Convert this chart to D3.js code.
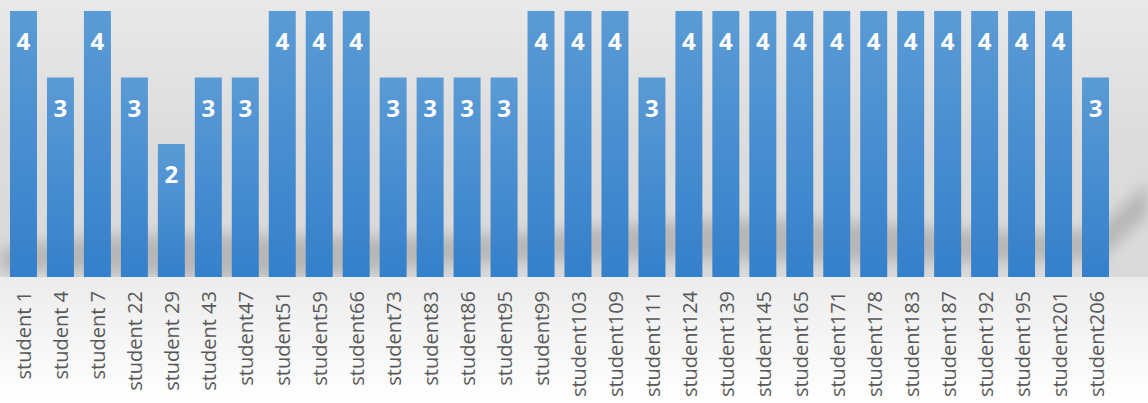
<!DOCTYPE html>
<html>
<head>
<meta charset="utf-8">
<script src="https://cdn.jsdelivr.net/npm/d3@7/dist/d3.min.js"></script>
<style>
  html, body { margin: 0; padding: 0; background: #fff; }
  svg { display: block; }
</style>
</head>
<body>
<div id="chart"></div>
<script>
// chart data
const students = ["student 1", "student 4", "student 7", "student 22", "student 29", "student 43",
    "student47", "student51", "student59", "student66", "student73", "student83", "student86",
    "student95", "student99", "student103", "student109", "student111", "student124", "student139",
    "student145", "student165", "student171", "student178", "student183", "student187",
    "student192", "student195", "student201", "student206"];
const scores = [4, 3, 4, 3, 2, 3, 3, 4, 4, 4, 3, 3, 3, 3, 4, 4, 4, 3, 4, 4, 4, 4, 4, 4, 4, 4, 4, 4, 4, 3];
const yMax = 4;

const W = 1148, H = 403;
const margin = { top: 11, right: 34, bottom: 126, left: 5 };
const width = W - margin.left - margin.right;
const height = H - margin.top - margin.bottom;

const svg = d3.select("#chart").append("svg")
    .attr("width", W)
    .attr("height", H);

const defs = svg.append("defs");

// backgrounds
const bgTop = defs.append("linearGradient").attr("id", "bgTop")
    .attr("x1", 0).attr("y1", 0).attr("x2", 0).attr("y2", 1);
bgTop.append("stop").attr("offset", "0%").attr("stop-color", "#e9e9e9");
bgTop.append("stop").attr("offset", "50%").attr("stop-color", "#dcdcdc");
bgTop.append("stop").attr("offset", "100%").attr("stop-color", "#d9d9d9");

const bgBot = defs.append("linearGradient").attr("id", "bgBot")
    .attr("x1", 0).attr("y1", 0).attr("x2", 0).attr("y2", 1);
bgBot.append("stop").attr("offset", "0%").attr("stop-color", "#ececec");
bgBot.append("stop").attr("offset", "100%").attr("stop-color", "#ffffff");

const barGrad = defs.append("linearGradient").attr("id", "barGrad")
    .attr("x1", 0).attr("y1", 0).attr("x2", 0).attr("y2", 1);
barGrad.append("stop").attr("offset", "0%").attr("stop-color", "#5b9bd5");
barGrad.append("stop").attr("offset", "100%").attr("stop-color", "#3580cb");

defs.append("filter").attr("id", "blur")
    .attr("x", "-20%").attr("y", "-50%").attr("width", "140%").attr("height", "200%")
    .append("feGaussianBlur").attr("stdDeviation", 7);

const baseY = margin.top + height;

svg.append("rect")
    .attr("width", W).attr("height", baseY)
    .attr("fill", "url(#bgTop)");

// soft reflection shadow behind the bars
const shadow = svg.append("g").attr("filter", "url(#blur)").attr("opacity", 0.6);
shadow.append("path")
    .attr("d", `M0,${baseY - 28} C150,${baseY - 60} 350,${baseY - 25} 600,${baseY - 50}
        S1000,${baseY - 30} 1100,${baseY - 50} L${W},${baseY - 95} L${W},${baseY - 62}
        L1100,${baseY - 18} C900,${baseY - 8} 600,${baseY - 28} 400,${baseY - 8}
        S100,${baseY - 12} 0,${baseY - 5} Z`)
    .attr("fill", "#a0a0a0");
svg.append("rect")
    .attr("y", baseY).attr("width", W).attr("height", H - baseY)
    .attr("fill", "url(#bgBot)");

const g = svg.append("g")
    .attr("transform", `translate(${margin.left}, ${margin.top})`);

const x = d3.scaleBand()
    .domain(students)
    .range([0, width])
    .paddingInner(0.27)
    .paddingOuter(0.135);

const y = d3.scaleLinear()
    .domain([0, yMax])
    .range([height, 0]);

g.selectAll(".bar")
    .data(scores)
    .join("rect")
    .attr("class", "bar")
    .attr("x", (d, i) => x(students[i]))
    .attr("y", d => y(d))
    .attr("width", x.bandwidth())
    .attr("height", d => height - y(d))
    .attr("fill", "url(#barGrad)");

g.selectAll(".val")
    .data(scores)
    .join("text")
    .attr("class", "val")
    .attr("x", (d, i) => x(students[i]) + x.bandwidth() / 2)
    .attr("y", d => y(d) + 39)
    .attr("text-anchor", "middle")
    .style("font-family", "'Open Sans', sans-serif")
    .style("font-weight", "bold")
    .style("font-size", "24px")
    .style("fill", "#fff")
    .text(d => d);

// x axis labels
const xAxis = g.append("g")
    .attr("transform", `translate(0, ${height})`)
    .call(d3.axisBottom(x).tickSize(0).tickPadding(0));
xAxis.select(".domain").remove();
xAxis.selectAll("text")
    .attr("transform", "rotate(-90)")
    .attr("x", -14)
    .attr("y", 1)
    .attr("dy", "0.35em")
    .attr("text-anchor", "end")
    .style("font-family", "'Open Sans', sans-serif")
    .style("font-size", "20px")
    .style("fill", "#595959");
</script>
</body>
</html>
